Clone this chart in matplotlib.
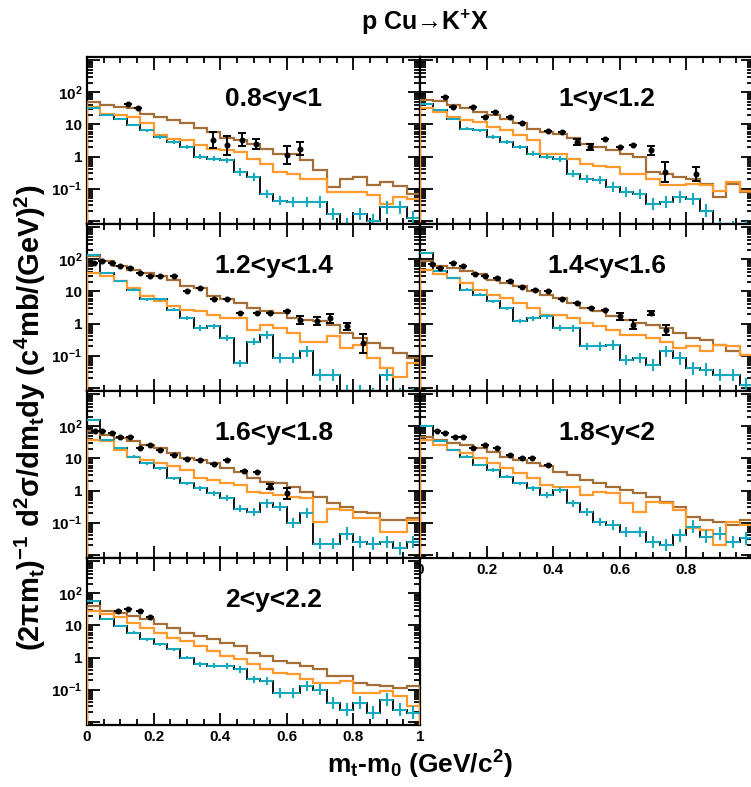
import numpy as np
import matplotlib.pyplot as plt
from matplotlib.ticker import LogLocator, MultipleLocator, FuncFormatter

plt.rcParams['font.family'] = ['Liberation Sans', 'DejaVu Sans']
plt.rcParams['font.weight'] = 'bold'
plt.rcParams['mathtext.fontset'] = 'custom'
plt.rcParams['mathtext.rm'] = 'Liberation Sans:bold'
plt.rcParams['mathtext.it'] = 'Liberation Sans:bold'
plt.rcParams['mathtext.bf'] = 'Liberation Sans:bold'

# rapidity windows
labels = ['0.8<y<1', '1<y<1.2', '1.2<y<1.4', '1.4<y<1.6', '1.6<y<1.8', '1.8<y<2', '2<y<2.2']

# model histograms, 25 bins on [0,1], values as log10
brown = [
    [1.70, 1.60, 1.55, 1.50, 1.34, 1.24, 1.13, 1.03, 0.90, 0.77, 0.59, 0.51, 0.38, 0.25, 0.09, 0.09, -0.12, -0.43, -0.95, -0.69, -0.64, -0.90, -0.80, -0.93, -1.16],
    [1.76, 1.74, 1.60, 1.50, 1.39, 1.29, 1.18, 1.05, 0.87, 0.77, 0.71, 0.59, 0.40, 0.30, 0.19, 0.09, -0.01, -0.48, -0.54, -0.64, -0.69, -0.85, -1.26, -0.85, -1.11],
    [2.10, 1.94, 1.79, 1.68, 1.58, 1.48, 1.37, 1.16, 1.11, 0.85, 0.75, 0.64, 0.48, 0.38, 0.33, 0.17, 0.12, 0.07, -0.04, -0.30, -0.45, -0.61, -0.76, -0.92, -1.08],
    [1.94, 1.79, 1.74, 1.63, 1.53, 1.37, 1.27, 1.16, 1.01, 0.90, 0.80, 0.64, 0.48, 0.38, 0.22, 0.12, 0.02, -0.04, -0.14, -0.30, -0.45, -0.50, -0.66, -0.87, -0.97],
    [1.84, 1.74, 1.63, 1.53, 1.42, 1.32, 1.16, 1.01, 0.95, 0.85, 0.69, 0.59, 0.38, 0.28, 0.22, 0.12, -0.04, -0.19, -0.40, -0.50, -0.66, -0.71, -0.92, -0.92, -0.87],
    [1.68, 1.58, 1.48, 1.42, 1.32, 1.21, 1.06, 0.95, 0.85, 0.75, 0.59, 0.48, 0.33, 0.22, 0.12, 0.02, -0.09, -0.19, -0.35, -0.50, -0.82, -0.92, -0.97, -1.08, -0.92],
    [1.61, 1.45, 1.40, 1.30, 1.19, 1.04, 0.93, 0.78, 0.67, 0.57, 0.46, 0.36, 0.15, 0.05, -0.11, -0.16, -0.26, -0.37, -0.58, -0.58, -0.79, -0.84, -0.89, -0.94, -0.89],
]
orange = [
    [1.55, 1.34, 1.29, 1.24, 1.03, 0.66, 0.56, 0.51, 0.35, 0.25, 0.19, 0.14, -0.07, -0.22, -0.48, -0.54, -0.69, -0.69, -1.11, -1.11, -1.11, -1.21, -1.47, -1.26, -1.32],
    [1.50, 1.39, 1.24, 1.13, 1.08, 0.92, 0.82, 0.66, 0.51, 0.09, 0.09, -0.07, -0.22, -0.28, -0.33, -0.54, -0.54, -0.69, -0.90, -0.90, -0.85, -0.90, -1.06, -0.80, -1.06],
    [1.58, 1.48, 1.32, 1.11, 0.85, 0.69, 0.54, 0.43, 0.38, 0.28, 0.17, 0.17, -0.19, -0.04, -0.14, -0.30, -0.56, -0.56, -0.40, -0.76, -0.66, -1.08, -1.39, -1.65, -1.23],
    [1.68, 1.53, 1.42, 1.27, 1.06, 0.90, 0.80, 0.64, 0.48, 0.28, 0.28, 0.17, 0.02, -0.09, -0.19, -0.35, -0.35, -0.45, -0.56, -0.76, -0.71, -0.87, -0.66, -0.71, -0.97],
    [1.58, 1.53, 1.27, 1.06, 0.95, 0.85, 0.75, 0.64, 0.38, 0.33, 0.22, 0.17, -0.04, -0.09, -0.14, -0.19, -0.24, -0.97, -0.56, -0.61, -0.87, -0.87, -1.29, -1.29, -0.92],
    [1.58, 1.42, 1.27, 1.16, 1.01, 0.85, 0.69, 0.54, 0.38, 0.17, 0.12, 0.12, -0.14, -0.04, -0.09, -0.40, -0.66, -0.35, -0.40, -0.61, -1.18, -1.23, -1.70, -0.97, -1.08],
    [1.45, 1.35, 1.25, 1.09, 0.93, 0.78, 0.62, 0.52, 0.36, 0.20, 0.05, -0.06, -0.21, -0.37, -0.47, -0.52, -0.68, -0.79, -0.79, -0.73, -1.10, -1.10, -1.05, -1.20, -1.51],
]
cyan = [
    [1.50, 1.29, 1.18, 0.98, 0.82, 0.61, 0.45, 0.30, -0.01, -0.07, -0.12, -0.48, -0.64, -1.16, -1.37, -1.42, -1.42, -1.42, -1.79, -2.10, -1.79, -2.00, -1.58, -1.58, -1.90],
    [1.65, 1.44, 1.18, 0.87, 0.82, 0.61, 0.45, 0.30, 0.09, -0.01, -0.07, -0.54, -0.69, -0.74, -0.95, -1.11, -1.16, -1.47, -1.42, -1.26, -1.32, -1.68, -2.20, -2.20, -2.20],
    [2.15, 1.58, 1.32, 1.06, 0.75, 0.75, 0.43, 0.17, -0.14, -0.09, -0.45, -1.23, -0.56, -0.35, -1.08, -1.08, -0.87, -1.60, -1.60, -2.10, -2.10, -2.20, -1.60, -2.20, -2.20],
    [2.20, 1.63, 1.42, 1.06, 0.90, 0.69, 0.48, 0.07, 0.17, 0.22, -0.14, -0.14, -0.71, -0.71, -0.66, -1.13, -1.08, -1.29, -0.87, -1.08, -1.39, -1.44, -1.60, -1.60, -1.90],
    [2.20, 1.58, 1.32, 1.06, 0.85, 0.69, 0.38, 0.22, 0.07, -0.09, -0.24, -0.56, -0.66, -0.40, -0.50, -1.02, -0.71, -1.65, -1.65, -1.34, -1.60, -1.65, -1.60, -1.80, -1.60],
    [2.00, 1.53, 1.27, 1.06, 0.80, 0.64, 0.43, 0.22, 0.07, -0.14, 0.02, -0.40, -0.66, -0.97, -1.08, -1.29, -1.29, -1.60, -1.70, -1.39, -1.13, -1.44, -1.34, -1.60, -1.49],
    [1.77, 1.19, 0.99, 0.78, 0.57, 0.41, 0.26, 0.00, -0.21, -0.26, -0.26, -0.37, -0.68, -0.73, -1.10, -1.10, -0.89, -1.00, -1.41, -1.62, -1.41, -1.72, -1.31, -1.62, -1.72],
]
# error of the cyan histogram, in decades
cyan_err = [0.02, 0.03, 0.03, 0.04, 0.04, 0.05, 0.05, 0.06, 0.08, 0.08, 0.09, 0.11, 0.12, 0.13, 0.15, 0.15, 0.16, 0.18, 0.18, 0.2, 0.2, 0.2, 0.2, 0.2, 0.2]

# measured points: x, log10 value, error in decades
data_x = [
    [0.124, 0.154, 0.379, 0.419, 0.464, 0.509, 0.60, 0.64],
    [0.075, 0.10, 0.16, 0.195, 0.225, 0.27, 0.305, 0.385, 0.425, 0.47, 0.51, 0.555, 0.60, 0.64, 0.695, 0.735, 0.83],
    [0.02, 0.044, 0.074, 0.10, 0.13, 0.16, 0.19, 0.22, 0.26, 0.30, 0.34, 0.38, 0.42, 0.46, 0.51, 0.55, 0.60, 0.64, 0.69, 0.73, 0.78, 0.83],
    [0.035, 0.06, 0.10, 0.13, 0.165, 0.195, 0.23, 0.27, 0.305, 0.345, 0.385, 0.425, 0.47, 0.515, 0.555, 0.60, 0.64, 0.695, 0.74],
    [0.024, 0.044, 0.074, 0.10, 0.13, 0.16, 0.19, 0.22, 0.26, 0.30, 0.34, 0.38, 0.42, 0.47, 0.51, 0.55, 0.60],
    [0.05, 0.075, 0.105, 0.13, 0.16, 0.195, 0.23, 0.27, 0.305, 0.335, 0.385],
    [0.094, 0.124, 0.16, 0.19],
]
data_y = [
    [1.65, 1.50, 0.51, 0.35, 0.53, 0.40, 0.04, 0.25],
    [1.86, 1.55, 1.55, 1.24, 1.39, 1.24, 1.05, 0.80, 0.77, 0.45, 0.30, 0.56, 0.30, 0.35, 0.19, -0.48, -0.54],
    [1.89, 1.96, 1.89, 1.79, 1.74, 1.58, 1.48, 1.48, 1.48, 1.01, 1.11, 0.78, 0.75, 0.33, 0.33, 0.33, 0.38, 0.12, 0.07, 0.17, -0.09, -0.61],
    [1.84, 1.74, 1.89, 1.79, 1.53, 1.48, 1.42, 1.32, 1.13, 1.06, 1.01, 0.75, 0.64, 0.48, 0.43, 0.22, -0.04, 0.33, -0.19],
    [1.84, 1.84, 1.79, 1.68, 1.68, 1.32, 1.42, 1.27, 1.11, 0.99, 0.95, 0.82, 0.95, 0.61, 0.59, 0.12, -0.09],
    [1.84, 1.79, 1.68, 1.68, 1.32, 1.42, 1.32, 1.11, 1.01, 1.01, 0.80],
    [1.45, 1.51, 1.45, 1.25],
]
data_e = [
    [0, 0, 0.25, 0.30, 0.20, 0.16, 0.28, 0.20],
    [0, 0, 0, 0, 0, 0, 0, 0, 0, 0.1, 0.1, 0, 0, 0, 0.14, 0.3, 0.22],
    [0, 0, 0, 0, 0, 0, 0, 0, 0, 0, 0, 0, 0, 0, 0, 0, 0, 0.12, 0.12, 0.14, 0.12, 0.3],
    [0, 0, 0, 0, 0, 0, 0, 0, 0, 0, 0, 0, 0, 0, 0, 0.1, 0.14, 0.06, 0.16],
    [0, 0, 0, 0, 0, 0, 0, 0, 0, 0, 0, 0, 0, 0, 0, 0.08, 0.16],
    [0, 0, 0, 0, 0, 0, 0, 0, 0, 0, 0],
    [0, 0, 0, 0],
]

c_brown = '#a66e37'
c_orange = '#ff9a2e'
c_cyan = '#16a9bf'
edges = np.linspace(0, 1, 26)
centers = 0.5 * (edges[1:] + edges[:-1])
ymin, ymax = 10 ** -2.1, 10 ** 3.1

fig = plt.figure(figsize=(7.51, 7.87), dpi=100)
W, H = 751., 787.
left, pw = 87, 333
top, ph = 57, 167

ylabs = {0.1: r'10$^{-1}$', 1: '1', 10: '10', 100: r'10$^{2}$'}

for i, lab in enumerate(labels):
    row, col = i // 2, i % 2
    x0 = left + col * pw
    y0 = top + row * ph
    ax = fig.add_axes([x0 / W, 1 - (y0 + ph) / H, pw / W, ph / H])

    ax.stairs(10 ** np.array(brown[i]), edges, baseline=1e-4, color=c_brown, lw=1.6, zorder=3)
    ax.stairs(10 ** np.array(orange[i]), edges, baseline=1e-4, color=c_orange, lw=1.6, zorder=3)
    cv = 10 ** np.array(cyan[i])
    ce = np.array(cyan_err)
    ax.stairs(cv, edges, baseline=1e-4, color='black', lw=1.3, zorder=2)
    ax.errorbar(centers, cv, xerr=0.02,
                yerr=[cv - 10 ** (np.array(cyan[i]) - ce), 10 ** (np.array(cyan[i]) + ce) - cv],
                fmt='none', ecolor=c_cyan, elinewidth=1.5, zorder=4)

    dy = np.array(data_y[i])
    de = np.array(data_e[i])
    dv = 10 ** dy
    ax.errorbar(data_x[i], dv, yerr=[dv - 10 ** (dy - de), 10 ** (dy + de) - dv],
                fmt='o', color='black', ms=3.3, elinewidth=1.4, capsize=3, capthick=1.4, zorder=5)

    ax.text(0.56, 0.75, lab, transform=ax.transAxes, ha='center', va='center',
            fontsize=19, fontweight='bold')

    ax.set_xlim(0, 1)
    ax.set_yscale('log')
    ax.set_ylim(ymin, ymax)
    ax.xaxis.set_major_locator(MultipleLocator(0.2))
    ax.xaxis.set_minor_locator(MultipleLocator(0.05))
    ax.yaxis.set_major_locator(LogLocator(base=10, numticks=12))
    ax.yaxis.set_minor_locator(LogLocator(base=10, subs=np.arange(2, 10), numticks=12))
    ax.tick_params(which='both', direction='in', top=True, right=True, width=1.3, labelsize=11)
    ax.tick_params(which='major', length=9)
    ax.tick_params(which='minor', length=4.5)
    for s in ax.spines.values():
        s.set_linewidth(1.6)

    if col == 0:
        ax.yaxis.set_major_formatter(FuncFormatter(lambda v, p: ylabs.get(round(v, 3), '')))
    else:
        ax.tick_params(labelleft=False)
    ax.yaxis.set_minor_formatter(FuncFormatter(lambda v, p: ''))

    if i == 6:
        ax.xaxis.set_major_formatter(FuncFormatter(lambda v, p: '%g' % round(v, 1)))
    elif i == 5:
        # the last label sits past the picture's right edge
        ax.xaxis.set_major_formatter(FuncFormatter(lambda v, p: '%g' % round(v, 1) if v < 0.9 else ''))
    else:
        ax.tick_params(labelbottom=False)

fig.text(425 / W, 1 - 22 / H, 'p Cu\u2192K$^{+}$X', ha='center', va='center', fontsize=18,
         fontweight='bold')
fig.text(420 / W, 1 - 765 / H, r'm$_{t}$-m$_{0}$ (GeV/c$^{2}$)', ha='center', va='center', fontsize=19)
fig.text(30 / W, 1 - 418 / H, r'(2$\pi$m$_{t}$)$^{-1}$ d$^{2}\sigma$/dm$_{t}$dy (c$^{4}$mb/(GeV)$^{2}$)',
         ha='center', va='center', rotation=90, fontsize=21)

fig.savefig('out.png', dpi=100)
